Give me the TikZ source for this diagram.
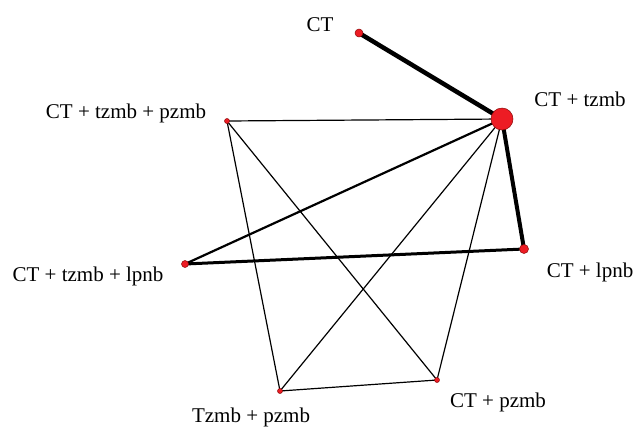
\documentclass[tikz,border=0pt]{standalone}
\usepackage{fontspec}
\setmainfont{Liberation Serif}
\usepackage{xcolor}
\usepackage{tikz}
\usetikzlibrary{backgrounds}
\definecolor{dotred}{RGB}{237, 28, 36}
\definecolor{dotrim}{RGB}{140, 10, 10}

\begin{document}
\begin{tikzpicture}[
    x=1pt, y=-1pt,
    trt/.style={circle, fill=dotred, draw=dotrim, line width=0.5pt, inner sep=0pt, minimum size=#1},
    lbl/.style={anchor=base, inner sep=0pt, font=\fontsize{21}{25}\selectfont},
    thin link/.style={line width=1.2pt},
    wide link/.style={line width=#1}
]
\useasboundingbox (0,0) rectangle (639,426);

% Treatments
\node[trt=8pt] (ct) at (359,33) {};
\node[trt=22pt] (cttz) at (502,119) {};
\node[trt=5pt] (cttzpz) at (227,121) {};
\node[trt=9pt] (ctlp) at (524,249) {};
\node[trt=7pt] (cttzlp) at (185,264) {};
\node[trt=5pt] (tzpz) at (280,391) {};
\node[trt=5pt] (ctpz) at (437,380) {};

% Labels
\node[lbl] (l-ct) at (320,31) {CT};
\node[lbl] (l-cttz) at (580,106) {CT + tzmb};
\node[lbl] (l-cttzpz) at (126,118) {CT + tzmb + pzmb};
\node[lbl] (l-ctlp) at (590,277) {CT + lpnb};
\node[lbl] (l-cttzlp) at (88,281) {CT + tzmb + lpnb};
\node[lbl] (l-tzpz) at (251,422) {Tzmb + pzmb};
\node[lbl] (l-ctpz) at (498,407) {CT + pzmb};

% Comparisons
\begin{scope}[on background layer]
\draw[wide link=4.5pt] (ct.center) -- (cttz.center);
\draw[wide link=4pt] (cttz.center) -- (ctlp.center);
\draw[wide link=3pt] (cttzlp.center) -- (ctlp.center);
\draw[wide link=2.2pt] (cttz.center) -- (cttzlp.center);
\draw[thin link] (cttzpz.center) -- (cttz.center);
\draw[thin link] (cttzpz.center) -- (tzpz.center);
\draw[thin link] (cttzpz.center) -- (ctpz.center);
\draw[thin link] (cttz.center) -- (tzpz.center);
\draw[thin link] (cttz.center) -- (ctpz.center);
\draw[thin link] (tzpz.center) -- (ctpz.center);
\end{scope}
\end{tikzpicture}
\end{document}
